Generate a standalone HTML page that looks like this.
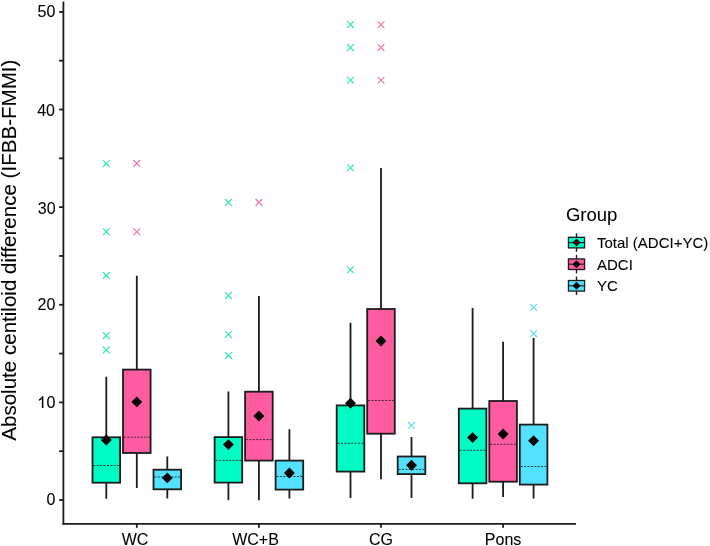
<!DOCTYPE html>
<html><head><meta charset="utf-8"><style>
html,body{margin:0;padding:0;background:#fff;}
body{width:710px;height:546px;overflow:hidden;}
svg{display:block;will-change:transform;}
text{font-family:"Liberation Sans",sans-serif;}
.tk{font-size:16px;fill:#000;stroke:#000;stroke-width:0.08px;}
.yt{font-size:20.55px;fill:#000;stroke:#000;stroke-width:0.08px;}
.lt{font-size:18.5px;fill:#000;stroke:#000;stroke-width:0.08px;}
.ll{font-size:15px;fill:#000;stroke:#000;stroke-width:0.08px;}
</style></head><body>
<svg width="710" height="546" viewBox="0 0 710 546">
<rect width="710" height="546" fill="#fff"/>
<path d="M102.90 160.20L109.70 167.00M102.90 167.00L109.70 160.20" stroke="#2EE3B3" stroke-width="1.1" fill="none"/>
<path d="M102.90 228.40L109.70 235.20M102.90 235.20L109.70 228.40" stroke="#2EE3B3" stroke-width="1.1" fill="none"/>
<path d="M102.90 272.00L109.70 278.80M102.90 278.80L109.70 272.00" stroke="#2EE3B3" stroke-width="1.1" fill="none"/>
<path d="M102.90 332.20L109.70 339.00M102.90 339.00L109.70 332.20" stroke="#2EE3B3" stroke-width="1.1" fill="none"/>
<path d="M102.90 346.60L109.70 353.40M102.90 353.40L109.70 346.60" stroke="#2EE3B3" stroke-width="1.1" fill="none"/>
<path d="M133.40 160.00L140.20 166.80M133.40 166.80L140.20 160.00" stroke="#EF6EAD" stroke-width="1.1" fill="none"/>
<path d="M133.40 228.40L140.20 235.20M133.40 235.20L140.20 228.40" stroke="#EF6EAD" stroke-width="1.1" fill="none"/>
<path d="M225.00 199.00L231.80 205.80M225.00 205.80L231.80 199.00" stroke="#2EE3B3" stroke-width="1.1" fill="none"/>
<path d="M225.00 292.20L231.80 299.00M225.00 299.00L231.80 292.20" stroke="#2EE3B3" stroke-width="1.1" fill="none"/>
<path d="M225.00 331.10L231.80 337.90M225.00 337.90L231.80 331.10" stroke="#2EE3B3" stroke-width="1.1" fill="none"/>
<path d="M225.00 352.20L231.80 359.00M225.00 359.00L231.80 352.20" stroke="#2EE3B3" stroke-width="1.1" fill="none"/>
<path d="M255.50 199.00L262.30 205.80M255.50 205.80L262.30 199.00" stroke="#EF6EAD" stroke-width="1.1" fill="none"/>
<path d="M347.10 21.20L353.90 28.00M347.10 28.00L353.90 21.20" stroke="#2EE3B3" stroke-width="1.1" fill="none"/>
<path d="M347.10 44.20L353.90 51.00M347.10 51.00L353.90 44.20" stroke="#2EE3B3" stroke-width="1.1" fill="none"/>
<path d="M347.10 76.90L353.90 83.70M347.10 83.70L353.90 76.90" stroke="#2EE3B3" stroke-width="1.1" fill="none"/>
<path d="M347.10 164.30L353.90 171.10M347.10 171.10L353.90 164.30" stroke="#2EE3B3" stroke-width="1.1" fill="none"/>
<path d="M347.10 266.40L353.90 273.20M347.10 273.20L353.90 266.40" stroke="#2EE3B3" stroke-width="1.1" fill="none"/>
<path d="M377.60 21.40L384.40 28.20M377.60 28.20L384.40 21.40" stroke="#EF6EAD" stroke-width="1.1" fill="none"/>
<path d="M377.60 44.20L384.40 51.00M377.60 51.00L384.40 44.20" stroke="#EF6EAD" stroke-width="1.1" fill="none"/>
<path d="M377.60 76.90L384.40 83.70M377.60 83.70L384.40 76.90" stroke="#EF6EAD" stroke-width="1.1" fill="none"/>
<path d="M408.10 422.00L414.90 428.80M408.10 428.80L414.90 422.00" stroke="#62D8F6" stroke-width="1.1" fill="none"/>
<path d="M530.20 304.00L537.00 310.80M530.20 310.80L537.00 304.00" stroke="#62D8F6" stroke-width="1.1" fill="none"/>
<path d="M530.20 330.20L537.00 337.00M530.20 337.00L537.00 330.20" stroke="#62D8F6" stroke-width="1.1" fill="none"/>
<path d="M106.30 376.70V437.30M106.30 482.70V498.80" stroke="#1c1c1c" stroke-width="1.8" fill="none"/>
<rect x="92.50" y="437.30" width="27.60" height="45.40" fill="#00FBC4" stroke="#1c1c1c" stroke-width="1.8"/>
<path d="M93.40 465.50H119.20" stroke="#1c1c1c" stroke-width="0.85" stroke-dasharray="2 1.4" fill="none"/>
<path d="M136.80 275.80V369.60M136.80 453.00V487.90" stroke="#1c1c1c" stroke-width="1.8" fill="none"/>
<rect x="123.00" y="369.60" width="27.60" height="83.40" fill="#FF5BA1" stroke="#1c1c1c" stroke-width="1.8"/>
<path d="M123.90 437.20H149.70" stroke="#1c1c1c" stroke-width="0.85" stroke-dasharray="2 1.4" fill="none"/>
<path d="M167.30 456.40V469.70M167.30 489.30V498.60" stroke="#1c1c1c" stroke-width="1.8" fill="none"/>
<rect x="153.50" y="469.70" width="27.60" height="19.60" fill="#52E1FF" stroke="#1c1c1c" stroke-width="1.8"/>
<path d="M154.40 477.00H180.20" stroke="#1c1c1c" stroke-width="0.85" stroke-dasharray="2 1.4" fill="none"/>
<path d="M228.40 391.50V437.10M228.40 482.60V500.20" stroke="#1c1c1c" stroke-width="1.8" fill="none"/>
<rect x="214.60" y="437.10" width="27.60" height="45.50" fill="#00FBC4" stroke="#1c1c1c" stroke-width="1.8"/>
<path d="M215.50 460.40H241.30" stroke="#1c1c1c" stroke-width="0.85" stroke-dasharray="2 1.4" fill="none"/>
<path d="M258.90 296.00V391.70M258.90 460.60V500.20" stroke="#1c1c1c" stroke-width="1.8" fill="none"/>
<rect x="245.10" y="391.70" width="27.60" height="68.90" fill="#FF5BA1" stroke="#1c1c1c" stroke-width="1.8"/>
<path d="M246.00 439.60H271.80" stroke="#1c1c1c" stroke-width="0.85" stroke-dasharray="2 1.4" fill="none"/>
<path d="M289.40 429.20V460.60M289.40 489.60V498.50" stroke="#1c1c1c" stroke-width="1.8" fill="none"/>
<rect x="275.60" y="460.60" width="27.60" height="29.00" fill="#52E1FF" stroke="#1c1c1c" stroke-width="1.8"/>
<path d="M276.50 476.50H302.30" stroke="#1c1c1c" stroke-width="0.85" stroke-dasharray="2 1.4" fill="none"/>
<path d="M350.50 322.80V405.40M350.50 471.60V497.90" stroke="#1c1c1c" stroke-width="1.8" fill="none"/>
<rect x="336.70" y="405.40" width="27.60" height="66.20" fill="#00FBC4" stroke="#1c1c1c" stroke-width="1.8"/>
<path d="M337.60 443.30H363.40" stroke="#1c1c1c" stroke-width="0.85" stroke-dasharray="2 1.4" fill="none"/>
<path d="M381.00 168.10V309.00M381.00 433.70V479.20" stroke="#1c1c1c" stroke-width="1.8" fill="none"/>
<rect x="367.20" y="309.00" width="27.60" height="124.70" fill="#FF5BA1" stroke="#1c1c1c" stroke-width="1.8"/>
<path d="M368.10 400.50H393.90" stroke="#1c1c1c" stroke-width="0.85" stroke-dasharray="2 1.4" fill="none"/>
<path d="M411.50 437.10V456.50M411.50 474.10V497.90" stroke="#1c1c1c" stroke-width="1.8" fill="none"/>
<rect x="397.70" y="456.50" width="27.60" height="17.60" fill="#52E1FF" stroke="#1c1c1c" stroke-width="1.8"/>
<path d="M398.60 469.40H424.40" stroke="#1c1c1c" stroke-width="0.85" stroke-dasharray="2 1.4" fill="none"/>
<path d="M472.60 307.90V408.60M472.60 483.30V498.80" stroke="#1c1c1c" stroke-width="1.8" fill="none"/>
<rect x="458.80" y="408.60" width="27.60" height="74.70" fill="#00FBC4" stroke="#1c1c1c" stroke-width="1.8"/>
<path d="M459.70 450.30H485.50" stroke="#1c1c1c" stroke-width="0.85" stroke-dasharray="2 1.4" fill="none"/>
<path d="M503.10 341.70V401.00M503.10 481.70V497.10" stroke="#1c1c1c" stroke-width="1.8" fill="none"/>
<rect x="489.30" y="401.00" width="27.60" height="80.70" fill="#FF5BA1" stroke="#1c1c1c" stroke-width="1.8"/>
<path d="M490.20 444.30H516.00" stroke="#1c1c1c" stroke-width="0.85" stroke-dasharray="2 1.4" fill="none"/>
<path d="M533.60 338.10V424.60M533.60 484.60V498.60" stroke="#1c1c1c" stroke-width="1.8" fill="none"/>
<rect x="519.80" y="424.60" width="27.60" height="60.00" fill="#52E1FF" stroke="#1c1c1c" stroke-width="1.8"/>
<path d="M520.70 466.50H546.50" stroke="#1c1c1c" stroke-width="0.85" stroke-dasharray="2 1.4" fill="none"/>
<path d="M106.30 434.55L111.75 440.00L106.30 445.45L100.85 440.00Z" fill="#000"/>
<path d="M136.80 396.45L142.25 401.90L136.80 407.35L131.35 401.90Z" fill="#000"/>
<path d="M167.30 472.45L172.75 477.90L167.30 483.35L161.85 477.90Z" fill="#000"/>
<path d="M228.40 439.15L233.85 444.60L228.40 450.05L222.95 444.60Z" fill="#000"/>
<path d="M258.90 410.55L264.35 416.00L258.90 421.45L253.45 416.00Z" fill="#000"/>
<path d="M289.40 467.55L294.85 473.00L289.40 478.45L283.95 473.00Z" fill="#000"/>
<path d="M350.50 397.75L355.95 403.20L350.50 408.65L345.05 403.20Z" fill="#000"/>
<path d="M381.00 335.55L386.45 341.00L381.00 346.45L375.55 341.00Z" fill="#000"/>
<path d="M411.50 459.85L416.95 465.30L411.50 470.75L406.05 465.30Z" fill="#000"/>
<path d="M472.60 432.15L478.05 437.60L472.60 443.05L467.15 437.60Z" fill="#000"/>
<path d="M503.10 428.55L508.55 434.00L503.10 439.45L497.65 434.00Z" fill="#000"/>
<path d="M533.60 435.35L539.05 440.80L533.60 446.25L528.15 440.80Z" fill="#000"/>
<path d="M63.4 1.4V523.8H576.0" stroke="#1c1c1c" stroke-width="1.8" fill="none" stroke-linejoin="miter"/>
<path d="M62.50 523.8H63.4" stroke="#1c1c1c" stroke-width="1.8"/>
<path d="M59.10 500.00H63.4" stroke="#1c1c1c" stroke-width="1.8"/>
<text x="55.40" y="504.90" text-anchor="end" class="tk">0</text>
<path d="M59.10 451.19H63.4" stroke="#1c1c1c" stroke-width="1.8"/>
<path d="M59.10 402.38H63.4" stroke="#1c1c1c" stroke-width="1.8"/>
<text x="55.4" y="407.98" text-anchor="end" class="tk">0</text>
<path d="M43.3 396.3V408H41.95V398.7C41.2 399.5 40.0 400.3 38.9 400.8V399.4C40.4 398.7 41.6 397.5 42.3 396.3Z" fill="#000" stroke="#000" stroke-width="0.15"/>
<path d="M59.10 353.57H63.4" stroke="#1c1c1c" stroke-width="1.8"/>
<path d="M59.10 304.76H63.4" stroke="#1c1c1c" stroke-width="1.8"/>
<text x="55.40" y="310.46" text-anchor="end" class="tk">20</text>
<path d="M59.10 255.95H63.4" stroke="#1c1c1c" stroke-width="1.8"/>
<path d="M59.10 207.14H63.4" stroke="#1c1c1c" stroke-width="1.8"/>
<text x="55.60" y="213.64" text-anchor="end" class="tk">30</text>
<path d="M59.10 158.33H63.4" stroke="#1c1c1c" stroke-width="1.8"/>
<path d="M59.10 109.52H63.4" stroke="#1c1c1c" stroke-width="1.8"/>
<text x="55.00" y="116.22" text-anchor="end" class="tk">40</text>
<path d="M59.10 60.71H63.4" stroke="#1c1c1c" stroke-width="1.8"/>
<path d="M59.10 11.90H63.4" stroke="#1c1c1c" stroke-width="1.8"/>
<text x="55.40" y="16.60" text-anchor="end" class="tk">50</text>
<path d="M136.8 523.8V527.8" stroke="#1c1c1c" stroke-width="1.8"/>
<text x="135.10" y="544.7" text-anchor="middle" class="tk">WC</text>
<path d="M258.9 523.8V527.8" stroke="#1c1c1c" stroke-width="1.8"/>
<text x="255.50" y="544.7" text-anchor="middle" class="tk">WC+B</text>
<path d="M381.0 523.8V527.8" stroke="#1c1c1c" stroke-width="1.8"/>
<text x="381.00" y="544.7" text-anchor="middle" class="tk">CG</text>
<path d="M503.1 523.8V527.8" stroke="#1c1c1c" stroke-width="1.8"/>
<text x="503.10" y="544.7" text-anchor="middle" class="tk">Pons</text>
<text transform="translate(16.2 250.2) rotate(-90)" text-anchor="middle" class="yt">Absolute centiloid difference (IFBB-FMMI)</text>
<text x="565.9" y="220.6" class="lt">Group</text>
<path d="M576.5 233.29999999999998V251.79999999999998" stroke="#1c1c1c" stroke-width="1.4"/>
<rect x="568.45" y="237.30" width="16.1" height="10.6" fill="#00FBC4" stroke="#1c1c1c" stroke-width="1.3"/>
<path d="M568.4 242.60H584.6" stroke="#1c1c1c" stroke-width="1.1"/>
<path d="M576.5 238.60L580.5 242.60L576.5 246.60L572.5 242.60Z" fill="#000"/>
<text x="597" y="247.90" class="ll">Total (ADCI+YC)</text>
<path d="M576.5 254.89999999999998V273.4" stroke="#1c1c1c" stroke-width="1.4"/>
<rect x="568.45" y="258.90" width="16.1" height="10.6" fill="#FF5BA1" stroke="#1c1c1c" stroke-width="1.3"/>
<path d="M568.4 264.20H584.6" stroke="#1c1c1c" stroke-width="1.1"/>
<path d="M576.5 260.20L580.5 264.20L576.5 268.20L572.5 264.20Z" fill="#000"/>
<text x="597" y="269.50" class="ll">ADCI</text>
<path d="M576.5 276.5V295.0" stroke="#1c1c1c" stroke-width="1.4"/>
<rect x="568.45" y="280.50" width="16.1" height="10.6" fill="#52E1FF" stroke="#1c1c1c" stroke-width="1.3"/>
<path d="M568.4 285.80H584.6" stroke="#1c1c1c" stroke-width="1.1"/>
<path d="M576.5 281.80L580.5 285.80L576.5 289.80L572.5 285.80Z" fill="#000"/>
<text x="597" y="291.10" class="ll">YC</text>
</svg>
</body></html>
